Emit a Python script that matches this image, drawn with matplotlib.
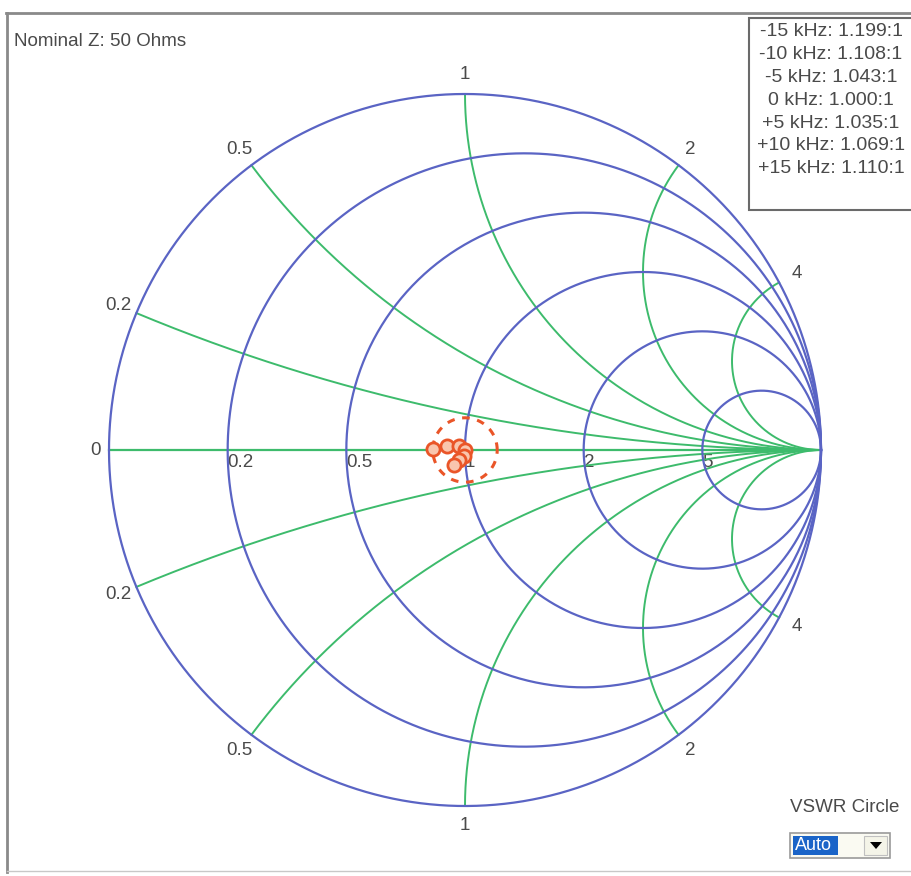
import numpy as np
import matplotlib.pyplot as plt
from matplotlib.patches import Rectangle, Polygon

plt.rcParams['font.family'] = ['Liberation Sans', 'DejaVu Sans']

# sweep results (offset from carrier, VSWR, estimated reflection angle)
offsets = ['-15 kHz', '-10 kHz', '-5 kHz', '0 kHz', '+5 kHz', '+10 kHz', '+15 kHz']
vswr = [1.199, 1.108, 1.043, 1.000, 1.035, 1.069, 1.110]
phase_deg = [178, 168, 150, 0, -100, -120, -128]

resistances = [0, 0.2, 0.5, 1, 2, 5]
r_labels = ['0', '0.2', '0.5', '1', '2', '5']
reactances = [0.2, 0.5, 1, 2, 4]
x_labels = ['0.2', '0.5', '1', '2', '4']
nominal_z = 50

W, H = 911, 876
CX, CY, RAD = 465, 450, 356          # chart centre / radius in pixels

BLUE = '#5a64c4'
GREEN = '#3dbb6c'
RED = '#ea5528'
TXT = '#4a4a4a'

fig = plt.figure(figsize=(W / 100, H / 100), dpi=100)
ax = fig.add_axes([0, 0, 1, 1])
ax.set_xlim(-CX / RAD, (W - CX) / RAD)
ax.set_ylim((CY - H) / RAD, CY / RAD)
ax.axis('off')

# resistance circles
t = np.linspace(0, 2 * np.pi, 720)
for r in resistances:
    c = r / (1 + r)
    rad = 1 / (1 + r)
    ax.plot(c + rad * np.cos(t), rad * np.sin(t), color=BLUE, lw=1.6, zorder=3)

# reactance arcs
rr = np.concatenate([np.linspace(0, 1, 300), np.logspace(0, 5, 600)])
for x in reactances:
    for s in (1, -1):
        g = (rr + 1j * s * x - 1) / (rr + 1j * s * x + 1)
        ax.plot(g.real, g.imag, color=GREEN, lw=1.4, zorder=2)
ax.plot([-1, 1], [0, 0], color=GREEN, lw=1.6, zorder=2)

# labels
fs = 13.5
for r, lab in zip(resistances, r_labels):
    gx = (r - 1) / (r + 1)
    if r == 0:
        ax.text(gx - 8 / RAD, 0, lab, ha='right', va='center', fontsize=fs, color=TXT)
    else:
        ax.text(gx, -4 / RAD, lab, ha='left', va='top', fontsize=fs, color=TXT, zorder=1)
for x, lab in zip(reactances, x_labels):
    for s in (1, -1):
        g = (1j * s * x - 1) / (1j * s * x + 1)
        p = g * (1 + 20 / RAD)
        ax.text(p.real, p.imag, lab, ha='center', va='center', fontsize=fs, color=TXT)

# measured points and VSWR circle
mag = [(s - 1) / (s + 1) for s in vswr]
pts = np.array([m * np.exp(1j * np.deg2rad(a)) for m, a in zip(mag, phase_deg)])
vmax = max(mag)
ax.plot(vmax * np.cos(t), vmax * np.sin(t), color=RED, lw=2.2, ls=(0, (2.5, 2.5)), zorder=4)
ax.plot(pts.real, pts.imag, color=RED, lw=3, alpha=0.85, zorder=5)
ax.plot(pts.real, pts.imag, 'o', ms=9.5, mfc='#f9c6ae', mec=RED, mew=2, zorder=6)

# window furniture in pixel coordinates
ui = fig.add_axes([0, 0, 1, 1])
ui.set_xlim(0, W)
ui.set_ylim(H, 0)
ui.axis('off')
ui.patch.set_alpha(0)

ui.plot([6, W], [13, 13], color='#8a8a8a', lw=2)
ui.plot([7, 7], [13, 872], color='#8a8a8a', lw=2)
ui.plot([7, W], [871, 871], color='#c8c8c8', lw=1)

ui.text(14, 42, f'Nominal Z: {nominal_z} Ohms', fontsize=13.5, color=TXT, va='center')

ui.add_patch(Rectangle((749, 18), 170, 192, fc='white', ec='#6a6a6a', lw=1.5, zorder=5))
for i, (o, s) in enumerate(zip(offsets, vswr)):
    ui.text(831, 32 + i * 22.8, f'{o}: {s:.3f}:1', ha='center', va='center',
            fontsize=14, color=TXT, zorder=6)

ui.text(790, 808, 'VSWR Circle', fontsize=13.5, color=TXT, va='center')
ui.add_patch(Rectangle((790, 833), 100, 25, fc='#fafaf2', ec='#9a9a9a', lw=1.2))
ui.add_patch(Rectangle((793, 836), 45, 19, fc='#1a64c8', ec='none'))
ui.text(795, 846, 'Auto', fontsize=13, color='white', va='center')
ui.add_patch(Rectangle((864, 836), 23, 19, fc='#f4f4e8', ec='#c0c0c0', lw=0.8))
ui.add_patch(Polygon([[870, 842], [882, 842], [876, 849]], fc='black', ec='none'))

fig.savefig('out.png', dpi=100, facecolor='white')
